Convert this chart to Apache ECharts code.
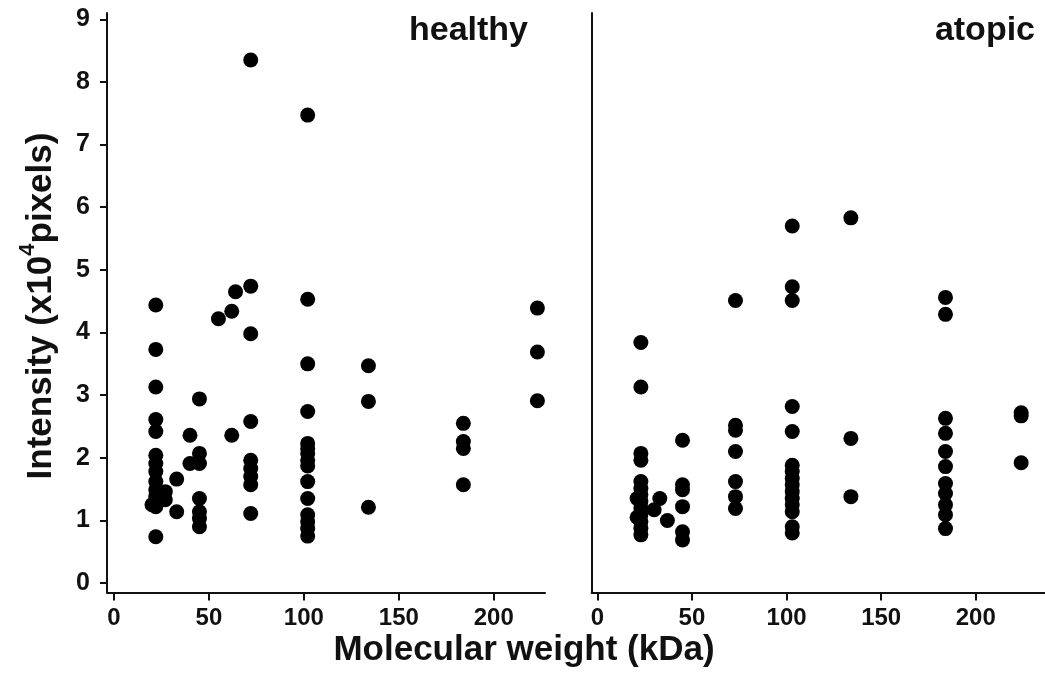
<!DOCTYPE html>
<html>
<head>
<meta charset="utf-8">
<script src="https://cdn.jsdelivr.net/npm/echarts@6/dist/echarts.min.js"></script>
<style>
  html, body { margin: 0; padding: 0; background: #fff; }
  #chart { width: 1045px; height: 691px; }
</style>
</head>
<body>
<div id="chart"></div>
<script>
// [molecular weight kDa, intensity x10^4 pixels]
const healthy = [
  [22, 4.44], [22, 3.73], [22, 3.13], [22, 2.61], [22, 2.42], [22, 2.04], [22, 1.91],
  [22, 1.78], [22, 1.62], [22, 1.49], [22, 1.38], [22, 1.22], [20, 1.25], [22, 0.74],
  [27, 1.46], [27, 1.33], [33, 1.66], [33, 1.14], [40, 2.36], [40, 1.91],
  [45, 2.94], [45, 2.07], [45, 1.91], [45, 1.35], [45, 1.14], [45, 1.03], [45, 0.90],
  [55, 4.22], [62, 4.34], [62, 2.36], [64, 4.65],
  [72, 8.35], [72, 4.74], [72, 3.98], [72, 2.58], [72, 1.96], [72, 1.83], [72, 1.70], [72, 1.57], [72, 1.11],
  [102, 7.47], [102, 4.53], [102, 3.50], [102, 2.74], [102, 2.23], [102, 2.15], [102, 2.07], [102, 1.96],
  [102, 1.87], [102, 1.62], [102, 1.35], [102, 1.09], [102, 0.98], [102, 0.87], [102, 0.75],
  [134, 3.47], [134, 2.90], [134, 1.21],
  [184, 2.55], [184, 2.26], [184, 2.15], [184, 1.57],
  [223, 4.39], [223, 3.69], [223, 2.91]
];
const atopic = [
  [23, 3.84], [23, 3.13], [23, 2.07], [23, 1.96], [23, 1.62], [23, 1.51], [23, 1.41], [23, 1.30],
  [23, 1.19], [23, 1.09], [23, 0.98], [23, 0.87], [23, 0.77], [21, 1.35], [21, 1.05],
  [30, 1.17], [33, 1.35], [37, 1.00],
  [45, 2.28], [45, 1.57], [45, 1.49], [45, 1.22], [45, 0.82], [45, 0.69],
  [73, 4.51], [73, 2.52], [73, 2.44], [73, 2.10], [73, 1.62], [73, 1.38], [73, 1.19],
  [103, 5.70], [103, 4.73], [103, 4.51], [103, 2.82], [103, 2.42], [103, 1.88], [103, 1.78], [103, 1.67],
  [103, 1.57], [103, 1.46], [103, 1.35], [103, 1.25], [103, 1.14], [103, 0.90], [103, 0.80],
  [134, 5.83], [134, 2.31], [134, 1.38],
  [184, 4.56], [184, 4.29], [184, 2.63], [184, 2.39], [184, 2.10], [184, 1.86], [184, 1.59],
  [184, 1.43], [184, 1.25], [184, 1.09], [184, 0.87],
  [224, 2.72], [224, 2.67], [224, 1.92]
];
const xTicks = [0, 50, 100, 150, 200];
const yTicks = [0, 1, 2, 3, 4, 5, 6, 7, 8, 9];
const panelNames = ['healthy', 'atopic'];

const font = 'Liberation Sans, Arial, sans-serif';
const ink = '#111';
const axisLine = { show: true, onZero: false, lineStyle: { color: ink, width: 2 } };

function xAxis(idx, min, max) {
  return {
    type: 'value', gridIndex: idx, min: min, max: max,
    splitLine: { show: false },
    axisLine: axisLine,
    axisTick: { show: true, length: 8, lineStyle: { color: ink, width: 2 }, customValues: xTicks },
    axisLabel: { customValues: xTicks, color: ink, fontFamily: font, fontWeight: 'bold', fontSize: 24, margin: 14 }
  };
}
function yAxis(idx, labels) {
  return {
    type: 'value', gridIndex: idx, min: -0.15, max: 9.1,
    splitLine: { show: false },
    axisLine: axisLine,
    axisTick: { show: labels, length: 7, lineStyle: { color: ink, width: 2 }, customValues: yTicks },
    axisLabel: { show: labels, customValues: yTicks, color: ink, fontFamily: font, fontWeight: 'bold', fontSize: 25, margin: 17 }
  };
}
function scatter(idx, data) {
  return {
    type: 'scatter', xAxisIndex: idx, yAxisIndex: idx, data: data,
    symbolSize: 15, itemStyle: { color: '#000', opacity: 1 }, silent: true
  };
}

const chart = echarts.init(document.getElementById('chart'), null, { renderer: 'canvas' });
chart.setOption({
  animation: false,
  backgroundColor: '#fff',
  grid: [
    { left: 107, right: 500, top: 13, bottom: 98.5 },
    { left: 591.7, right: 0, top: 13, bottom: 98.5 }
  ],
  xAxis: [xAxis(0, -3.7, 227), xAxis(1, -3, 236.6)],
  yAxis: [yAxis(0, true), yAxis(1, false)],
  series: [scatter(0, healthy), scatter(1, atopic)],
  graphic: [
    { type: 'text', right: 1045 - 528, top: 14,
      style: { text: panelNames[0], font: 'bold 34px ' + font, fill: ink } },
    { type: 'text', right: 10, top: 14,
      style: { text: panelNames[1], font: 'bold 34px ' + font, fill: ink } },
    { type: 'text', x: 524, y: 650,
      style: { text: 'Molecular weight (kDa)', font: 'bold 35px ' + font, fill: ink, align: 'center', verticalAlign: 'middle' } },
    { type: 'text', x: 38, y: 306, rotation: Math.PI / 2,
      style: {
        text: '{b|Intensity (x10}{s|4}{b|pixels)}', align: 'center', verticalAlign: 'middle', fill: ink,
        rich: {
          b: { fontFamily: font, fontWeight: 'bold', fontSize: 35, lineHeight: 42, verticalAlign: 'bottom', fill: ink },
          s: { fontFamily: font, fontWeight: 'bold', fontSize: 22, lineHeight: 42, verticalAlign: 'top', fill: ink }
        }
      } }
  ]
});
</script>
</body>
</html>
